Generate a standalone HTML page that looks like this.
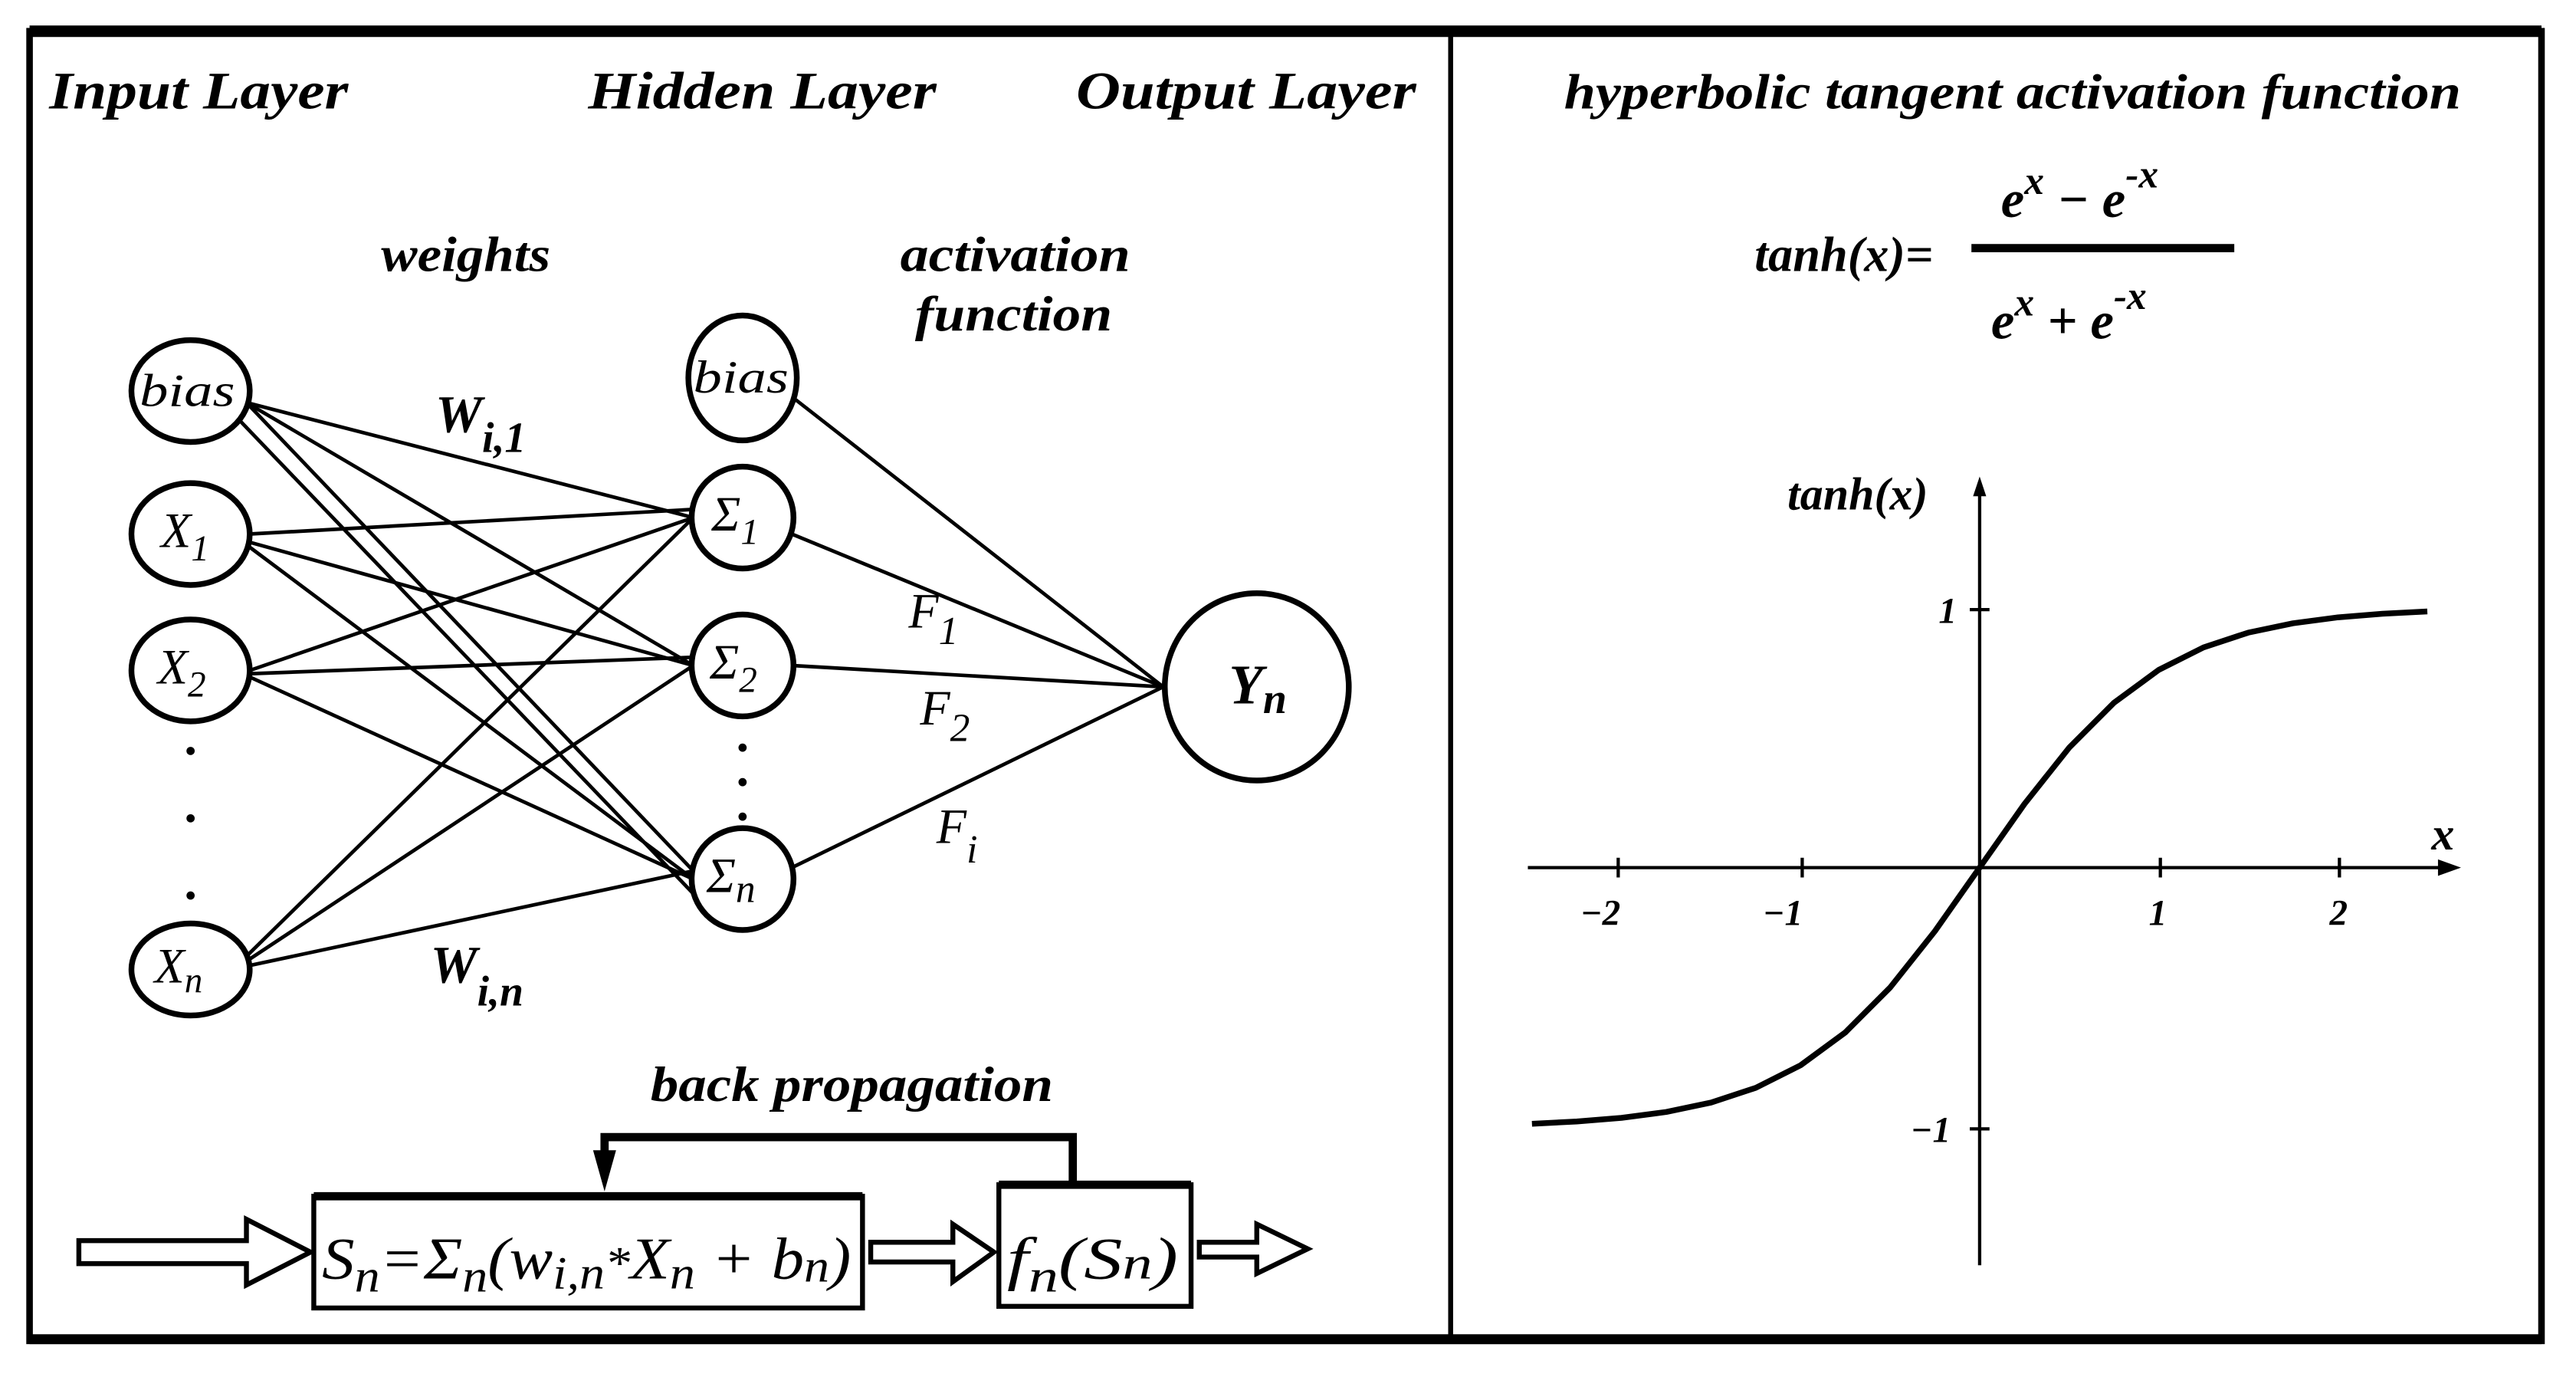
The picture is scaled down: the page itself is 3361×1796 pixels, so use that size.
<!DOCTYPE html>
<html><head><meta charset="utf-8"><style>
html,body{margin:0;padding:0;background:#fff;}
svg{display:block;}
text{font-family:"Liberation Serif",serif;font-weight:bold;font-style:italic;fill:#000;}
</style></head><body>
<svg width="3361" height="1796" viewBox="0 0 1568 838" preserveAspectRatio="none" xmlns="http://www.w3.org/2000/svg">
<rect x="0" y="0" width="1568" height="838" fill="#fff"/>
<rect x="18" y="19" width="1529" height="797" fill="none" stroke="#000" stroke-width="4"/>
<line x1="18" y1="19" x2="1547" y2="19" stroke="#000" stroke-width="7"/>
<line x1="18" y1="815" x2="1547" y2="815" stroke="#000" stroke-width="6"/>
<line x1="883" y1="19" x2="883" y2="816" stroke="#000" stroke-width="3"/>

<text x="30" y="66" font-size="32" textLength="182" lengthAdjust="spacingAndGlyphs">Input Layer</text>
<text x="358" y="66" font-size="32" textLength="212" lengthAdjust="spacingAndGlyphs">Hidden Layer</text>
<text x="655" y="66" font-size="32" textLength="207" lengthAdjust="spacingAndGlyphs">Output Layer</text>
<text x="952" y="66" font-size="30" textLength="546" lengthAdjust="spacingAndGlyphs">hyperbolic tangent  activation function</text>
<text x="232" y="165" font-size="30" textLength="103" lengthAdjust="spacingAndGlyphs">weights</text>
<text x="548" y="165" font-size="30" textLength="140" lengthAdjust="spacingAndGlyphs">activation</text>
<text x="557" y="201" font-size="30" textLength="120" lengthAdjust="spacingAndGlyphs">function</text>

<g stroke="#000" stroke-width="2.2">
<line x1="150" y1="245" x2="422" y2="315"/>
<line x1="150" y1="245" x2="422" y2="405"/>
<line x1="150" y1="245" x2="422" y2="530"/>
<line x1="146" y1="256" x2="426" y2="548"/>
<line x1="152" y1="325" x2="422" y2="310"/>
<line x1="152" y1="330" x2="422" y2="405"/>
<line x1="152" y1="333" x2="422" y2="535"/>
<line x1="152" y1="408" x2="422" y2="315"/>
<line x1="152" y1="410" x2="422" y2="400"/>
<line x1="152" y1="412" x2="422" y2="535"/>
<line x1="150" y1="582" x2="422" y2="315"/>
<line x1="150" y1="585" x2="422" y2="405"/>
<line x1="150" y1="588" x2="422" y2="530"/>
<line x1="484" y1="243" x2="708" y2="418"/>
<line x1="482" y1="325" x2="708" y2="418"/>
<line x1="482" y1="405" x2="708" y2="418"/>
<line x1="482" y1="528" x2="708" y2="418"/>
</g>

<g fill="#fff" stroke="#000" stroke-width="3.5">
<ellipse cx="116" cy="238" rx="36" ry="31"/>
<ellipse cx="116" cy="325" rx="36" ry="31"/>
<ellipse cx="116" cy="408" rx="36" ry="31"/>
<ellipse cx="116" cy="590" rx="36" ry="28"/>
<ellipse cx="452" cy="230" rx="33" ry="38"/>
<ellipse cx="452" cy="315" rx="31" ry="31"/>
<ellipse cx="452" cy="405" rx="31" ry="31"/>
<ellipse cx="452" cy="535" rx="31" ry="31"/>
<ellipse cx="765" cy="418" rx="56" ry="57"/>
</g>
<g fill="#000">
<circle cx="116" cy="457" r="2.5"/><circle cx="116" cy="498" r="2.5"/><circle cx="116" cy="545" r="2.5"/>
<circle cx="452" cy="455" r="2.5"/><circle cx="452" cy="476" r="2.5"/><circle cx="452" cy="497" r="2.5"/>
</g>
<g>
<text x="85" y="247" font-size="28" style="font-weight:normal" textLength="58" lengthAdjust="spacingAndGlyphs">bias</text>
<text x="98" y="333" font-size="30" style="font-weight:normal">X<tspan font-size="22" dy="8">1</tspan></text>
<text x="96" y="416" font-size="30" style="font-weight:normal">X<tspan font-size="22" dy="8">2</tspan></text>
<text x="94" y="598" font-size="30" style="font-weight:normal">X<tspan font-size="22" dy="6">n</tspan></text>
<text x="422" y="239" font-size="28" style="font-weight:normal" textLength="58" lengthAdjust="spacingAndGlyphs">bias</text>
<text x="433" y="323" font-size="30" style="font-weight:normal">Σ<tspan font-size="22" dy="8">1</tspan></text>
<text x="432" y="413" font-size="30" style="font-weight:normal">Σ<tspan font-size="22" dy="8">2</tspan></text>
<text x="430" y="543" font-size="30" style="font-weight:normal">Σ<tspan font-size="24" dy="6">n</tspan></text>
<text x="748" y="428" font-size="34">Y<tspan font-size="26" dy="6">n</tspan></text>
<text x="553" y="382" font-size="30" style="font-weight:normal">F<tspan font-size="24" dy="10">1</tspan></text>
<text x="560" y="441" font-size="30" style="font-weight:normal">F<tspan font-size="24" dy="10">2</tspan></text>
<text x="570" y="513" font-size="30" style="font-weight:normal">F<tspan font-size="24" dy="12">i</tspan></text>
</g>
<text x="265" y="263" font-size="32">W<tspan font-size="26" dy="12">i,1</tspan></text>
<text x="262" y="598" font-size="32">W<tspan font-size="26" dy="14">i,n</tspan></text>

<text x="396" y="670" font-size="30" textLength="245" lengthAdjust="spacingAndGlyphs">back propagation</text>
<polyline points="653,722 653,692 368,692 368,712" fill="none" stroke="#000" stroke-width="5"/>
<polygon points="361,700 375,700 368,725" fill="#000"/>
<rect x="191" y="728" width="334" height="68" fill="none" stroke="#000" stroke-width="3"/>
<line x1="191" y1="728" x2="525" y2="728" stroke="#000" stroke-width="5"/>
<rect x="608" y="721" width="117" height="74" fill="none" stroke="#000" stroke-width="3"/>
<line x1="608" y1="721" x2="725" y2="721" stroke="#000" stroke-width="5"/>
<text x="196" y="778" font-size="36" style="font-weight:normal" textLength="322" lengthAdjust="spacingAndGlyphs">S<tspan font-size="28" dy="8">n</tspan><tspan dy="-8">=</tspan>Σ<tspan font-size="28" dy="8">n</tspan><tspan dy="-8">(w</tspan><tspan font-size="28" dy="6">i,n</tspan><tspan dy="-6" font-size="28">*</tspan><tspan>X</tspan><tspan font-size="28" dy="6">n</tspan><tspan dy="-6"> + b</tspan><tspan font-size="28" dy="2">n</tspan><tspan dy="-2">)</tspan></text>
<text x="613" y="778" font-size="36" style="font-weight:normal" textLength="104" lengthAdjust="spacingAndGlyphs">f<tspan font-size="28" dy="8">n</tspan><tspan dy="-8">(S</tspan><tspan font-size="28">n</tspan>)</text>
<g fill="#fff" stroke="#000" stroke-width="3">
<polygon points="48,755 150,755 150,742 189,762 150,782 150,769 48,769"/>
<polygon points="530,756 580,756 580,745 605,762 580,780 580,768 530,768"/>
<polygon points="730,756 765,756 765,745 796,760 765,775 765,765 730,765"/>
</g>

<text x="1068" y="165" font-size="30">tanh(x)=</text>
<line x1="1200" y1="151" x2="1360" y2="151" stroke="#000" stroke-width="5"/>
<text x="1218" y="132" font-size="32">e<tspan font-size="24" dy="-14">x</tspan><tspan dy="14"> − e</tspan><tspan font-size="24" dy="-18">-x</tspan></text>
<text x="1212" y="206" font-size="32">e<tspan font-size="24" dy="-14">x</tspan><tspan dy="14"> + e</tspan><tspan font-size="24" dy="-18">-x</tspan></text>

<g stroke="#000" stroke-width="2">
<line x1="930" y1="528" x2="1490" y2="528"/>
<line x1="1205" y1="770" x2="1205" y2="296"/>
<line x1="985" y1="522" x2="985" y2="534"/>
<line x1="1097" y1="522" x2="1097" y2="534"/>
<line x1="1315" y1="522" x2="1315" y2="534"/>
<line x1="1424" y1="522" x2="1424" y2="534"/>
<line x1="1199" y1="371" x2="1211" y2="371"/>
<line x1="1199" y1="687" x2="1211" y2="687"/>
</g>
<polygon points="1498,528 1484,523 1484,533" fill="#000"/>
<polygon points="1205,290 1201,302 1209,302" fill="#000"/>
<text x="1088" y="310" font-size="28">tanh(x)</text>
<text x="1480" y="517" font-size="28">x</text>
<g font-size="22">
<text x="962" y="563">−2</text>
<text x="1073" y="563">−1</text>
<text x="1308" y="563">1</text>
<text x="1418" y="563">2</text>
<text x="1180" y="379">1</text>
<text x="1163" y="695">−1</text>
</g>
<path d="M932.5,683.9 L959.75,682.5 L987,680.3 L1014.25,676.7 L1041.5,671 L1068.75,662 L1096,648.3 L1123.25,628.3 L1150.5,601 L1177.75,566.7 L1205,528 L1232.25,489.3 L1259.5,455 L1286.75,427.7 L1314,407.7 L1341.25,394 L1368.5,385 L1395.75,379.3 L1423,375.7 L1450.25,373.5 L1477.5,372.1" fill="none" stroke="#000" stroke-width="3.5" stroke-linejoin="round"/>
</svg>
</body></html>
